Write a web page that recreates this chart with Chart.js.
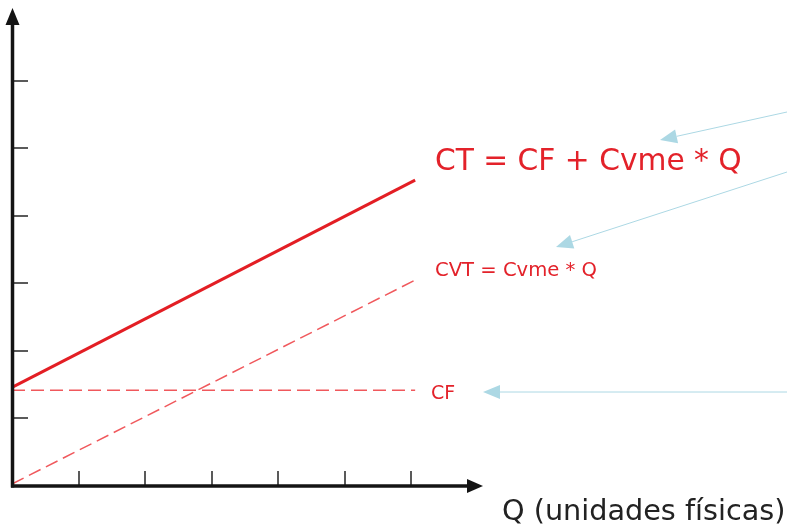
<!DOCTYPE html>
<html>
<head>
<meta charset="utf-8">
<script src="https://cdn.jsdelivr.net/npm/chart.js@4.4.0/dist/chart.umd.min.js"></script>
<style>
    html, body { margin: 0; padding: 0; background: #fff; }
</style>
</head>
<body>
<canvas id="myChart" width="787" height="525"></canvas>
<script>
// Datos del gráfico
var qPoints = [0, 6.06];          // Q (unidades físicas)
var cfValues = [1.42, 1.42];      // CF: costo fijo
var cvtValues = [0.03, 3.05];     // CVT = Cvme * Q
var ctValues = [1.46, 4.53];      // CT = CF + Cvme * Q
var xTicks = [1, 2, 3, 4, 5, 6];
var yTicks = [1, 2, 3, 4, 5, 6];

var labelCT = 'CT = CF + Cvme * Q';
var labelCVT = 'CVT = Cvme * Q';
var labelCF = 'CF';
var labelX = 'Q (unidades físicas)';

function toPoints(xs, ys) {
    return xs.map(function (x, i) { return { x: x, y: ys[i] }; });
}

// Dibuja una flecha con punta triangular
function arrow(ctx, x1, y1, x2, y2, len, half, color, width) {
    var a = Math.atan2(y2 - y1, x2 - x1);
    var bx = x2 - len * Math.cos(a), by = y2 - len * Math.sin(a);
    ctx.strokeStyle = color;
    ctx.fillStyle = color;
    ctx.lineWidth = width;
    ctx.beginPath();
    ctx.moveTo(x1, y1);
    ctx.lineTo(bx, by);
    ctx.stroke();
    ctx.beginPath();
    ctx.moveTo(x2, y2);
    ctx.lineTo(bx + half * Math.sin(a), by - half * Math.cos(a));
    ctx.lineTo(bx - half * Math.sin(a), by + half * Math.cos(a));
    ctx.closePath();
    ctx.fill();
}

var axesPlugin = {
    id: 'axesPlugin',
    afterDatasetsDraw: function (chart) {
        var ctx = chart.ctx;
        var xs = chart.scales.x, ys = chart.scales.y;
        var x0 = xs.getPixelForValue(0);
        var y0 = ys.getPixelForValue(0);
        var area = chart.chartArea;
        ctx.save();

        // Marcas de los ejes
        ctx.strokeStyle = '#5a5a5a';
        ctx.lineWidth = 2;
        yTicks.forEach(function (v) {
            var py = Math.round(ys.getPixelForValue(v));
            ctx.beginPath();
            ctx.moveTo(x0, py);
            ctx.lineTo(x0 + 16, py);
            ctx.stroke();
        });
        xTicks.forEach(function (v) {
            var px = Math.round(xs.getPixelForValue(v));
            ctx.beginPath();
            ctx.moveTo(px, y0);
            ctx.lineTo(px, y0 - 15);
            ctx.stroke();
        });

        // Ejes con flecha
        arrow(ctx, x0 + 0.5, y0 + 1.5, x0 + 0.5, area.top, 17, 7, '#141414', 3.5);
        arrow(ctx, x0 - 1, y0, area.right, y0, 16, 7, '#141414', 3.5);

        // Flechas celestes
        arrow(ctx, 787, 112, 660, 140, 17, 7, '#acd8e4', 1);
        arrow(ctx, 787, 172, 556, 247, 17, 7, '#acd8e4', 1);
        arrow(ctx, 787, 392, 483, 392, 17, 7, '#acd8e4', 1);

        // Textos
        ctx.textBaseline = 'alphabetic';
        ctx.textAlign = 'left';
        ctx.fillStyle = '#e3222a';
        ctx.font = '29.7px "DejaVu Sans"';
        ctx.fillText(labelCT, 435, 170);
        ctx.font = '19.6px "DejaVu Sans"';
        ctx.fillText(labelCVT, 435, 276);
        ctx.font = '19px "DejaVu Sans"';
        ctx.fillText(labelCF, 431, 399);
        ctx.fillStyle = '#222';
        ctx.font = '28.7px "DejaVu Sans"';
        ctx.fillText(labelX, 502, 520);

        ctx.restore();
    }
};

var ctx = document.getElementById('myChart').getContext('2d');
var myChart = new Chart(ctx, {
    type: 'line',
    data: {
        datasets: [{
            label: 'CT',
            data: toPoints(qPoints, ctValues),
            borderColor: '#e31e24',
            borderWidth: 3,
            pointRadius: 0,
            fill: false,
            clip: false
        }, {
            label: 'CVT',
            data: toPoints(qPoints, cvtValues),
            borderColor: '#f0585c',
            borderWidth: 1.5,
            borderDash: [13, 6],
            pointRadius: 0,
            fill: false,
            clip: false
        }, {
            label: 'CF',
            data: toPoints(qPoints, cfValues),
            borderColor: '#f0585c',
            borderWidth: 1.5,
            borderDash: [13, 6],
            pointRadius: 0,
            fill: false,
            clip: false
        }]
    },
    options: {
        responsive: false,
        animation: false,
        devicePixelRatio: 1,
        layout: { padding: { left: 12, top: 8, right: 304, bottom: 39 } },
        scales: {
            x: { type: 'linear', min: 0, max: 7.08, display: false },
            y: { type: 'linear', min: 0, max: 7.08, display: false }
        },
        plugins: {
            legend: { display: false },
            tooltip: { enabled: false }
        }
    },
    plugins: [axesPlugin]
});
</script>
</body>
</html>
